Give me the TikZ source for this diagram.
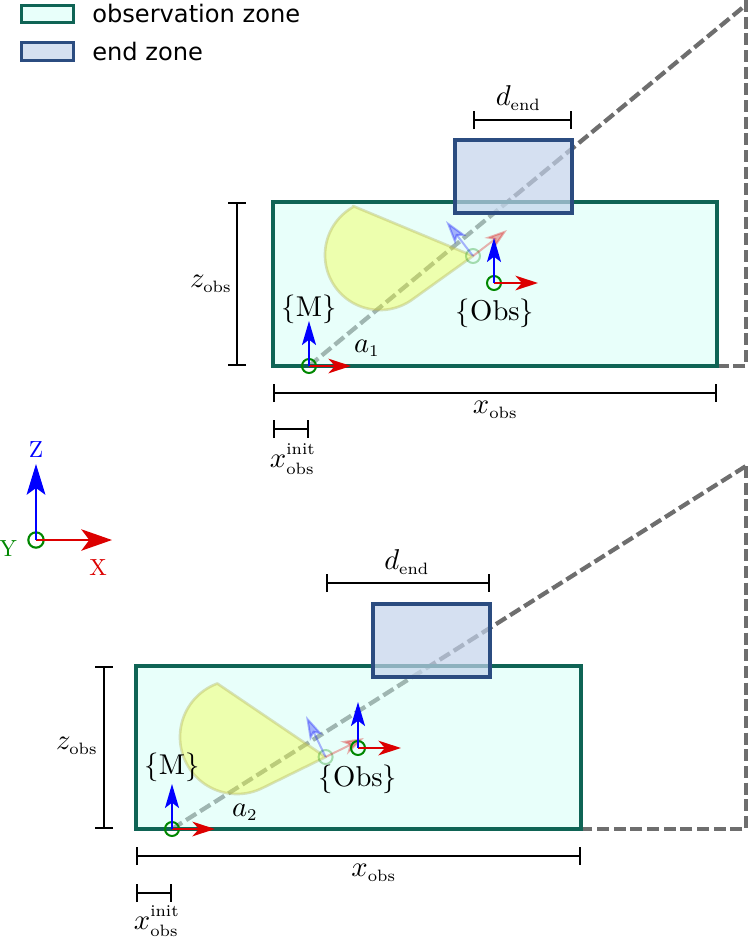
\documentclass[tikz,border=0pt]{standalone}
\usepackage{fontspec}
\newfontfamily\lgd{DejaVu Sans}
\usetikzlibrary{arrows.meta}
\definecolor{obsline}{RGB}{15,100,85}
\definecolor{obsfill}{RGB}{209,255,245}
\definecolor{endline}{RGB}{43,76,128}
\definecolor{endfill}{RGB}{195,211,235}
\definecolor{wedgefill}{RGB}{252,255,0}
\definecolor{wedgeline}{RGB}{180,180,90}
\definecolor{axred}{RGB}{220,0,0}
\definecolor{axgreen}{RGB}{0,135,0}
\newcommand{\smalltxt}[1]{\scalebox{.82}{$\scriptstyle\mathrm{#1}$}}
\newcommand{\uptxt}[1]{\raisebox{1pt}{\smalltxt{#1}}}
\tikzset{
  x=.75pt,y=-.75pt,
  obszone/.style={draw=obsline,line width=2.9pt,fill=obsfill,fill opacity=.5},
  endzone/.style={draw=endline,line width=2.9pt,fill=endfill,fill opacity=.7},
  sight/.style={draw=black!57,line width=3.2pt,dash pattern=on 9pt off 3.5pt},
  wedge/.style={fill=wedgefill,fill opacity=.3,draw=wedgeline,draw opacity=.4,line width=2pt,line join=round},
  dimline/.style={draw=black,line width=1.3pt,{Bar[width=13.5pt]}-{Bar[width=13.5pt]}},
  lab/.style={inner sep=0pt,scale=2.15},
  redax/.style={draw=axred,line width=1.5pt,-{Stealth[length=17pt,width=11pt,inset=5pt]}},
  blueax/.style={draw=blue,line width=1.5pt,-{Stealth[length=18pt,width=10.5pt,inset=4pt]}},
  ocirc/.style={circle,draw=axgreen,line width=1.5pt,minimum size=10.5pt,inner sep=0pt},
  legendtext/.style={inner sep=0pt,anchor=base west,font=\lgd\fontsize{18.1}{20}\selectfont},
}
\newcommand{\frm}[8][]{%
  \coordinate (#2r) at (#5,#6);
  \coordinate (#2b) at (#7,#8);
  \node[ocirc,#1] (#2) at (#3,#4) {};
  \draw[redax,#1] (#2.center) -- (#2r);
  \draw[blueax,#1] (#2.center) -- (#2b);
}
\begin{document}
\begin{tikzpicture}
\useasboundingbox (0,0) rectangle (748,939);
% legend
\node[draw=obsline,line width=2.9pt,fill=obsfill,fill opacity=.5,minimum width=39pt,minimum height=12.75pt,inner sep=0pt] (lgobs) at (47.5,14) {};
\node[draw=endline,line width=2.9pt,fill=endfill,fill opacity=.7,minimum width=39pt,minimum height=13.5pt,inner sep=0pt] (lgend) at (47.5,51.5) {};
\node[legendtext] (lgobst) at (92,22) {observation zone};
\node[legendtext] (lgendt) at (92,60) {end zone};
% world axes
\coordinate (wr) at (112,540);
\coordinate (wb) at (36,464);
\node[circle,draw=axgreen,line width=1.6pt,minimum size=11.5pt,inner sep=0pt] (w) at (36,540) {};
\draw[draw=axred,line width=2pt,-{Stealth[length=23pt,width=16pt,inset=6pt]}] (w.center) -- (wr);
\draw[draw=blue,line width=2pt,-{Stealth[length=23pt,width=14pt,inset=5pt]}] (w.center) -- (wb);
\node[inner sep=0pt,scale=1.75,text=blue] (zl) at (36,450) {Z};
\node[inner sep=0pt,scale=1.75,text=axred] (xl) at (98,568) {X};
\node[inner sep=0pt,scale=1.75,text=axgreen] (yl) at (8,549) {Y};
% ---------- top scene
\coordinate (t0) at (309,366);
\coordinate (t1) at (747,4);
\coordinate (t2) at (746,0);
\coordinate (t3) at (746,366);
\coordinate (t4) at (717,366);
\draw[sight] (t0) -- (t1);
\draw[sight] (t2) -- (t3) -- (t4);
\draw[obszone] (273,202) rectangle (717,366);
\draw[endzone] (455,140) rectangle (572,213);
\draw[wedge] (473,256) -- (353,206)
  -- plot[domain=241:54.6,samples=60,smooth] ({380+55*cos(\x)},{255+55*sin(\x)}) -- cycle;
\frm[opacity=.3]{tobsr}{473}{256}{507}{230}{446}{221}
\frm{tobs}{494}{283}{538}{283}{494}{238}
\frm{tm}{309}{366}{351}{366}{309}{321}
\node[lab] (tml) at (309,309) {$\{\mathrm{M}\}$};
\node[lab] (tol) at (495,313) {$\{\mathrm{Obs}\}$};
\node[lab] (ta) at (367,348) {$a_{\smalltxt{1}}$};
\coordinate (td1) at (473,120); \coordinate (td2) at (572,120);
\draw[dimline] (td1) -- (td2);
\node[lab] (tdl) at (518.5,98) {$d_{\smalltxt{end}}$};
\coordinate (tz1) at (237,202); \coordinate (tz2) at (237,366);
\draw[dimline] (tz1) -- (tz2);
\node[lab] (tzl) at (211,284) {$z_{\smalltxt{obs}}$};
\coordinate (tx1) at (273,393); \coordinate (tx2) at (717,393);
\draw[dimline] (tx1) -- (tx2);
\node[lab] (txl) at (495.5,410) {$x_{\smalltxt{obs}}$};
\coordinate (ti1) at (273,429); \coordinate (ti2) at (309,429);
\draw[dimline] (ti1) -- (ti2);
\node[lab] (til) at (293,459) {$x_{\smalltxt{obs}}^{\uptxt{init}}$};
% ---------- bottom scene
\coordinate (b0) at (172,829);
\coordinate (b1) at (746,466);
\coordinate (b3) at (746,829);
\coordinate (b4) at (581,829);
\draw[sight] (b0) -- (b1);
\draw[sight] (b1) -- (b3) -- (b4);
\draw[obszone] (136,666) rectangle (581,829);
\draw[endzone] (373,604) rectangle (490,677);
\draw[wedge] (325.6,757) -- (218,684)
  -- plot[domain=250:64,samples=60,smooth] ({237+57*cos(\x)},{737+57*sin(\x)}) -- cycle;
\frm[opacity=.3]{bobsr}{325.6}{757}{364}{738}{306}{716}
\frm{bobs}{358}{748}{401}{748}{358}{702}
\frm{bm}{172}{829}{215}{829}{172}{784}
\node[lab] (bml) at (172,767) {$\{\mathrm{M}\}$};
\node[lab] (bol) at (358,779) {$\{\mathrm{Obs}\}$};
\node[lab] (ba) at (245,812) {$a_{\smalltxt{2}}$};
\coordinate (bd1) at (326,583); \coordinate (bd2) at (490,583);
\draw[dimline] (bd1) -- (bd2);
\node[lab] (bdl) at (407,562) {$d_{\smalltxt{end}}$};
\coordinate (bz1) at (104,666); \coordinate (bz2) at (104,829);
\draw[dimline] (bz1) -- (bz2);
\node[lab] (bzl) at (77,746) {$z_{\smalltxt{obs}}$};
\coordinate (bx1) at (136,856); \coordinate (bx2) at (581,856);
\draw[dimline] (bx1) -- (bx2);
\node[lab] (bxl) at (374,873) {$x_{\smalltxt{obs}}$};
\coordinate (bi1) at (136,893); \coordinate (bi2) at (172,893);
\draw[dimline] (bi1) -- (bi2);
\node[lab] (bil) at (157,921) {$x_{\smalltxt{obs}}^{\uptxt{init}}$};
\end{tikzpicture}
\end{document}
